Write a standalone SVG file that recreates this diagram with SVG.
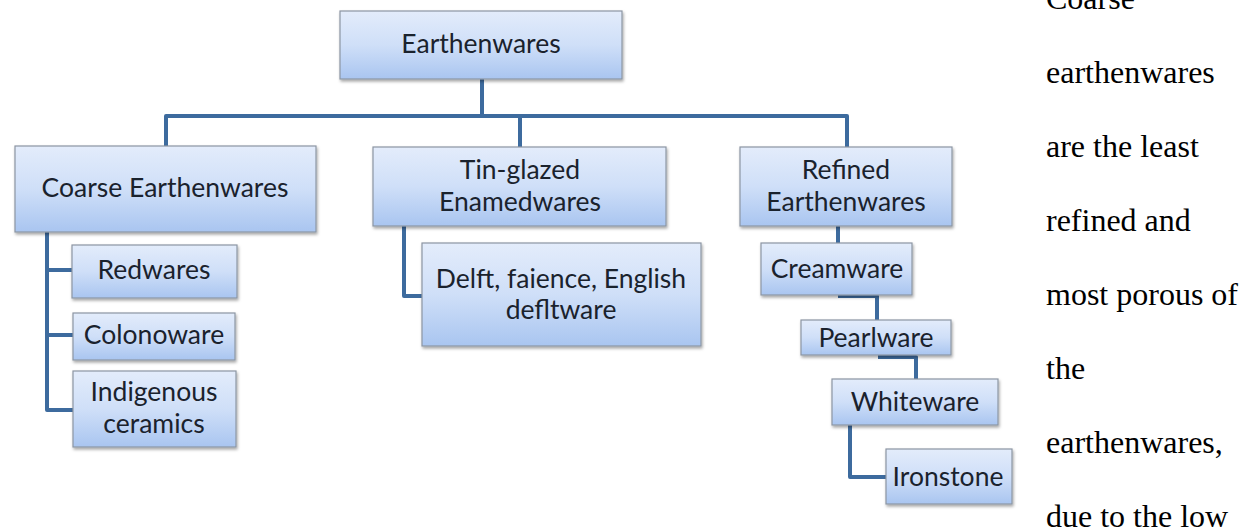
<svg xmlns="http://www.w3.org/2000/svg" width="1251" height="529" viewBox="0 0 1251 529">
<style>
.box{fill:url(#g);stroke:#8c96a3;stroke-width:1.2;filter:url(#sh)}
.t{font-family:Lato,"Open Sans",sans-serif;font-size:26.5px;fill:#1a222d;text-anchor:middle}
.c{fill:none;stroke:#3d6b9e;stroke-width:4;stroke-linejoin:round}
.p{font-family:"Liberation Serif","Times New Roman",serif;font-size:32px;fill:#000}
</style>
<defs>
<linearGradient id="g" x1="0" y1="0" x2="0" y2="1">
<stop offset="0" stop-color="#e3ecfb"/>
<stop offset="0.5" stop-color="#cfdff8"/>
<stop offset="1" stop-color="#a9c5f0"/>
</linearGradient>
<filter id="sh" x="-10%" y="-10%" width="120%" height="140%">
<feDropShadow dx="1" dy="2" stdDeviation="1.5" flood-color="#000" flood-opacity="0.35"/>
</filter>
</defs>
<rect width="1251" height="529" fill="#fff"/>
<g id="connectors">
<path class="c" d="M482,79 V116 M166,146 V116 H847 V147 M520,116 V147"/>
<path class="c" d="M47,232 V410 H73 M47,270 H72 M47,335 H73"/>
<path class="c" d="M404,226 V296 H422"/>
<path class="c" d="M838,226 V243"/>
<path class="c" d="M838,296 H877 V320"/>
<path class="c" d="M878,357 H916 V379"/>
<path class="c" d="M850,425 V477 H886"/>
</g>
<g id="n-earthenwares"><rect class="box" x="340" y="11" width="282" height="68"/><text class="t" x="481" y="53">Earthenwares</text></g>
<g id="n-coarse"><rect class="box" x="15" y="146" width="301" height="86"/><text class="t" x="165" y="197">Coarse Earthenwares</text></g>
<g id="n-tin"><rect class="box" x="373" y="147" width="293" height="79"/><text class="t" x="520" y="179">Tin-glazed</text><text class="t" x="520" y="211">Enamedwares</text></g>
<g id="n-refined"><rect class="box" x="740" y="147" width="212" height="79"/><text class="t" x="846" y="179">Refined</text><text class="t" x="846" y="211">Earthenwares</text></g>
<g id="n-redwares"><rect class="box" x="72" y="245" width="165" height="53"/><text class="t" x="154" y="279">Redwares</text></g>
<g id="n-colonoware"><rect class="box" x="73" y="313" width="162" height="47"/><text class="t" x="154" y="344">Colonoware</text></g>
<g id="n-indigenous"><rect class="box" x="73" y="371" width="163" height="76"/><text class="t" x="154" y="401">Indigenous</text><text class="t" x="154" y="433">ceramics</text></g>
<g id="n-delft"><rect class="box" x="422" y="243" width="279" height="103"/><text class="t" x="561" y="288">Delft, faience, English</text><text class="t" x="561" y="319">defltware</text></g>
<g id="n-creamware"><rect class="box" x="761" y="243" width="151" height="52"/><text class="t" x="837" y="278">Creamware</text></g>
<g id="n-pearlware"><rect class="box" x="801" y="320" width="150" height="35"/><text class="t" x="876" y="347">Pearlware</text></g>
<g id="n-whiteware"><rect class="box" x="832" y="379" width="166" height="46"/><text class="t" x="915" y="411">Whiteware</text></g>
<g id="n-ironstone"><rect class="box" x="886" y="449" width="126" height="55"/><text class="t" x="948" y="486">Ironstone</text></g>
<g id="paragraph">
<text class="p" x="1046" y="9">Coarse</text>
<text class="p" x="1046" y="83">earthenwares</text>
<text class="p" x="1046" y="157">are the least</text>
<text class="p" x="1046" y="231">refined and</text>
<text class="p" x="1046" y="305">most porous of</text>
<text class="p" x="1046" y="379">the</text>
<text class="p" x="1046" y="453">earthenwares,</text>
<text class="p" x="1046" y="527">due to the low</text>
</g>
</svg>
